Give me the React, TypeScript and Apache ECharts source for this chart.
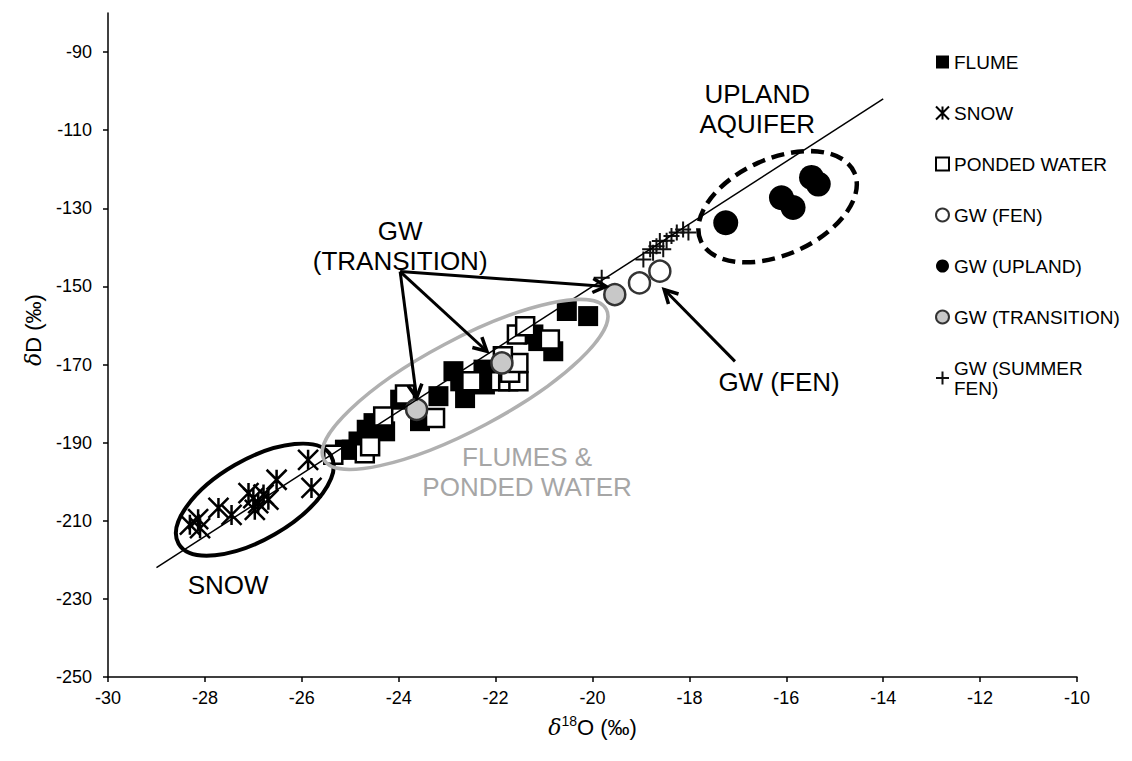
import React, { useEffect, useRef } from "react";
import * as echarts from "echarts";

// ---- axis ticks ----
const xTickValues = [-30, -28, -26, -24, -22, -20, -18, -16, -14, -12, -10];
const yTickValues = [-250, -230, -210, -190, -170, -150, -130, -110, -90];

// ---- isotope samples: δ18O (x) and δD (y), ‰ ----
const flumeX = [-25.11, -24.97, -24.83, -24.66, -24.52, -24.28, -23.97, -23.56, -23.18, -22.87, -22.73, -22.63, -22.25, -22.22, -21.22, -21.12, -20.81, -20.53, -20.09];
const flumeY = [-191.8, -191.8, -189.7, -186.7, -185.0, -187.1, -179.0, -184.5, -178.1, -171.7, -174.3, -178.6, -171.3, -175.1, -162.3, -164.0, -166.6, -156.3, -157.6];

const snowX = [-28.31, -28.14, -28.10, -27.72, -27.45, -27.10, -27.00, -26.90, -26.79, -26.69, -26.97, -26.52, -25.87, -25.80];
const snowY = [-211.0, -209.6, -211.9, -206.7, -208.5, -202.9, -204.2, -205.5, -203.3, -204.6, -207.2, -199.5, -194.4, -201.6];

const pondedX = [-25.35, -24.70, -24.59, -24.32, -23.87, -23.25, -22.50, -21.91, -21.74, -21.53, -21.70, -21.53, -21.56, -21.39, -20.88, -21.85];
const pondedY = [-193.1, -192.7, -190.9, -183.3, -177.7, -183.7, -174.3, -174.3, -174.3, -174.3, -172.1, -169.6, -162.3, -160.2, -163.6, -167.9];

const fenX = [-19.03, -18.61];
const fenY = [-149.1, -146.1];

const uplandX = [-17.25, -16.10, -15.86, -15.48, -15.34];
const uplandY = [-133.7, -127.3, -129.8, -122.1, -123.8];

const transitionX = [-23.63, -21.87, -19.54];
const transitionY = [-181.5, -169.6, -152.1];

const summerFenX = [-19.81, -18.95, -18.81, -18.75, -18.68, -18.61, -18.54, -18.47, -18.37, -18.26, -18.13, -18.02];
const summerFenY = [-147.8, -143.1, -140.5, -141.4, -139.7, -138.4, -140.5, -138.3, -137.1, -136.2, -135.4, -136.2];

// global meteoric water line end points
const mwlX = [-29, -14];
const mwlY = [-222, -102];

const FONT = "'Liberation Sans', Arial, Helvetica, sans-serif";

const pairs = (xs: number[], ys: number[]) => xs.map((x, i) => [x, ys[i]]);

const STAR = "path://M0 0 L20 20 M0 20 L20 0 M10 0 L10 20";
const PLUS = "path://M0 10 L20 10 M10 0 L10 20";

// annotation layout (anchors in data units, sizes in pixels)
const ellipses = [
  { at: [-26.97, -204.6], rx: 88, ry: 40, angle: 30, stroke: "#000", width: 4, dash: null as number[] | null },
  { at: [-22.63, -175.1], rx: 160, ry: 45, angle: 28, stroke: "#b0b0b0", width: 3.5, dash: null as number[] | null },
  { at: [-16.18, -129.6], rx: 84, ry: 48, angle: 24, stroke: "#000", width: 4.5, dash: [13, 7] },
];

const notes = [
  { text: "GW\n(TRANSITION)", at: [-23.97, -139.7], color: "#000" },
  { text: "UPLAND\nAQUIFER", at: [-16.6, -104.6], color: "#000" },
  { text: "GW (FEN)", at: [-16.15, -174.4], color: "#000" },
  { text: "FLUMES &\nPONDED WATER", at: [-21.35, -197.4], color: "#a6a6a6" },
  { text: "SNOW", at: [-27.52, -226.4], color: "#000" },
];

const arrows = [
  { from: [-23.97, -146.2], to: [-19.72, -150.0] },
  { from: [-23.97, -146.2], to: [-22.18, -166.6] },
  { from: [-23.97, -146.2], to: [-23.63, -178.5] },
  { from: [-17.06, -169.2], to: [-18.52, -150.8] },
];

const legendNames = ["FLUME", "SNOW", "PONDED WATER", "GW (FEN)", "GW (UPLAND)", "GW (TRANSITION)", "GW (SUMMER FEN)"];

export default function App() {
  const ref = useRef<HTMLDivElement>(null);

  useEffect(() => {
    const chart = echarts.init(ref.current!, null, { renderer: "svg" });

    const option: any = {
      animation: false,
      backgroundColor: "#fff",
      textStyle: { fontFamily: FONT },
      grid: { left: 108, right: 55, top: 13, bottom: 84 },
      legend: {
        data: legendNames,
        orient: "vertical",
        left: 930,
        top: 47,
        itemGap: 31,
        itemWidth: 13,
        itemHeight: 13,
        textStyle: { fontSize: 19, color: "#000", fontFamily: FONT, lineHeight: 20 },
        formatter: (name: string) => (name === "GW (SUMMER FEN)" ? "GW (SUMMER\nFEN)" : name),
      },
      xAxis: {
        type: "value",
        min: -30,
        max: -10,
        interval: 2,
        splitLine: { show: false },
        axisLine: { onZero: false, lineStyle: { color: "#000", width: 1.5 } },
        axisTick: { show: true, length: 5, lineStyle: { color: "#000", width: 1.5 } },
        axisLabel: { fontSize: 18, color: "#000", margin: 12, fontFamily: FONT },
        name: "{i|δ}{sup|18}O (‰)",
        nameLocation: "middle",
        nameGap: 37,
        nameTextStyle: {
          fontSize: 22,
          color: "#000",
          fontFamily: FONT,
          rich: {
            i: { fontSize: 22, fontStyle: "italic", fontFamily: "'DejaVu Serif', serif" },
            sup: { fontSize: 14, verticalAlign: "top", lineHeight: 26 },
          },
        },
      },
      yAxis: {
        type: "value",
        min: -250,
        max: -80,
        splitLine: { show: false },
        axisLine: { onZero: false, lineStyle: { color: "#000", width: 1.5 } },
        axisTick: { show: true, length: 5, customValues: yTickValues, lineStyle: { color: "#000", width: 1.5 } },
        axisLabel: { fontSize: 18, color: "#000", margin: 16, fontFamily: FONT, customValues: yTickValues },
      },
      series: [
        {
          name: "FLUME",
          type: "scatter",
          symbol: "rect",
          symbolSize: 20,
          itemStyle: { color: "#000", opacity: 1 },
          data: pairs(flumeX, flumeY),
        },
        {
          name: "SNOW",
          type: "scatter",
          symbol: STAR,
          symbolKeepAspect: true,
          symbolSize: 20,
          itemStyle: { color: "transparent", borderColor: "#000", borderWidth: 2.5, opacity: 1 },
          data: pairs(snowX, snowY),
        },
        {
          name: "PONDED WATER",
          type: "scatter",
          symbol: "rect",
          symbolSize: 18,
          itemStyle: { color: "#fff", borderColor: "#000", borderWidth: 2.5, opacity: 1 },
          data: pairs(pondedX, pondedY),
        },
        {
          name: "GW (FEN)",
          type: "scatter",
          symbol: "circle",
          symbolSize: 21,
          itemStyle: { color: "#fff", borderColor: "#333", borderWidth: 2.5, opacity: 1 },
          data: pairs(fenX, fenY),
        },
        {
          name: "GW (UPLAND)",
          type: "scatter",
          symbol: "circle",
          symbolSize: 25,
          itemStyle: { color: "#000", opacity: 1 },
          data: pairs(uplandX, uplandY),
        },
        {
          name: "GW (TRANSITION)",
          type: "scatter",
          symbol: "circle",
          symbolSize: 21,
          itemStyle: { color: "#c8c8c8", borderColor: "#333", borderWidth: 2.5, opacity: 1 },
          data: pairs(transitionX, transitionY),
        },
        {
          name: "GW (SUMMER FEN)",
          type: "scatter",
          symbol: PLUS,
          symbolKeepAspect: true,
          symbolSize: 16,
          itemStyle: { color: "transparent", borderColor: "#111", borderWidth: 2, opacity: 1 },
          data: pairs(summerFenX, summerFenY),
        },
        {
          name: "MWL",
          type: "line",
          silent: true,
          symbol: "none",
          z: 5,
          lineStyle: { color: "#000", width: 1.5 },
          data: pairs(mwlX, mwlY),
        },
      ],
    };

    chart.setOption(option);

    const toPx = (p: number[]) => chart.convertToPixel({ gridIndex: 0 }, p) as number[];
    const elements: any[] = [];

    ellipses.forEach((e) => {
      const [cx, cy] = toPx(e.at);
      elements.push({
        type: "ellipse",
        x: cx,
        y: cy,
        rotation: (e.angle * Math.PI) / 180,
        shape: { cx: 0, cy: 0, rx: e.rx, ry: e.ry },
        style: { fill: "none", stroke: e.stroke, lineWidth: e.width, lineDash: e.dash || undefined },
        silent: true,
        z: 50,
      });
    });

    arrows.forEach((a) => {
      const p0 = toPx(a.from);
      const p1 = toPx(a.to);
      const dx = p1[0] - p0[0];
      const dy = p1[1] - p0[1];
      const len = Math.hypot(dx, dy);
      const ux = dx / len;
      const uy = dy / len;
      const head = 15;
      const spread = (28 * Math.PI) / 180;
      const arm = (s: number) => {
        const c = Math.cos(s);
        const n = Math.sin(s);
        const rx = ux * c - uy * n;
        const ry = ux * n + uy * c;
        return [p1[0] - rx * head, p1[1] - ry * head];
      };
      elements.push({
        type: "polyline",
        shape: { points: [p0, p1] },
        style: { stroke: "#000", lineWidth: 3, fill: "none" },
        silent: true,
        z: 60,
      });
      elements.push({
        type: "polyline",
        shape: { points: [arm(spread), p1, arm(-spread)] },
        style: { stroke: "#000", lineWidth: 3.5, fill: "none", lineJoin: "miter" },
        silent: true,
        z: 60,
      });
    });

    notes.forEach((t) => {
      const [x, y] = toPx(t.at);
      elements.push({
        type: "text",
        x,
        y,
        style: {
          text: t.text,
          fill: t.color,
          fontSize: 26,
          fontFamily: FONT,
          align: "center",
          verticalAlign: "middle",
          lineHeight: 30,
        },
        silent: true,
        z: 60,
      });
    });

    // vertical axis title
    elements.push({
      type: "text",
      x: 33,
      y: 330,
      rotation: Math.PI / 2,
      style: {
        text: "{i|δ}D (‰)",
        fill: "#000",
        fontSize: 22,
        fontFamily: FONT,
        align: "center",
        verticalAlign: "middle",
        rich: { i: { fontSize: 22, fontStyle: "italic", fontFamily: "'DejaVu Serif', serif" } },
      },
      silent: true,
      z: 60,
    });

    chart.setOption({ graphic: elements });

    return () => chart.dispose();
  }, []);

  return (
    <div
      ref={ref}
      style={{ position: "fixed", left: 0, top: 0, width: 1132, height: 761, background: "#fff" }}
    />
  );
}
